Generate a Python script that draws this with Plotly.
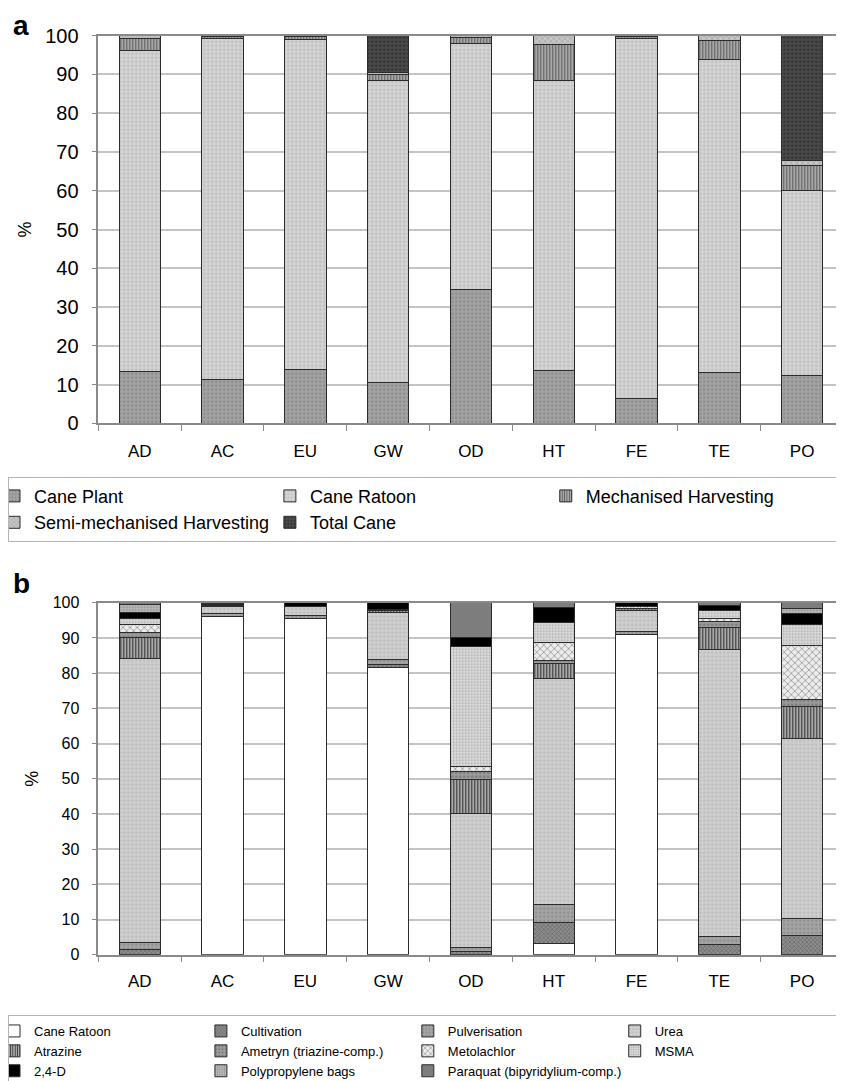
import plotly.graph_objects as go

sites = ["AD", "AC", "EU", "GW", "OD", "HT", "FE", "TE", "PO"]

# Panel a (%)
cane_plant = [13.3, 11.4, 13.8, 10.6, 34.4, 13.6, 6.3, 13.0, 12.3]
cane_ratoon_a = [82.8, 87.8, 85.3, 77.8, 63.6, 74.8, 92.9, 80.9, 47.7]
mech_harvest = [3.2, 0.5, 0.6, 1.5, 1.5, 9.3, 0.5, 4.8, 6.5]
semi_mech_harvest = [0.7, 0.3, 0.3, 0.6, 0.5, 2.3, 0.3, 1.3, 1.3]
total_cane = [0, 0, 0, 9.5, 0, 0, 0, 0, 32.2]

# Panel b (%)
cane_ratoon_b = [0, 96.2, 95.6, 81.6, 0, 3.2, 90.9, 0, 0]
cultivation = [1.5, 0, 0, 0.9, 1.0, 5.9, 0, 3.0, 5.4]
pulverisation = [2.0, 0.6, 0.7, 1.5, 1.0, 5.1, 0.9, 2.1, 4.9]
urea = [80.6, 2.0, 2.7, 13.3, 38.1, 64.4, 6.0, 81.7, 51.1]
atrazine = [6.0, 0.2, 0, 0.5, 9.6, 4.2, 0.5, 6.1, 9.1]
ametryn = [1.5, 0.2, 0, 0.2, 2.3, 0.9, 0, 1.7, 2.1]
metolachlor = [2.3, 0.2, 0, 0.2, 1.6, 4.9, 0.5, 0.9, 15.3]
msma = [1.5, 0.2, 0, 0, 34.1, 5.7, 0, 2.2, 6.0]
d24 = [1.9, 0.2, 1.0, 1.8, 2.5, 4.3, 1.2, 1.6, 3.1]
polyprop = [2.3, 0, 0, 0, 0, 0, 0, 0, 1.3]
paraquat = [0.4, 0.2, 0, 0, 9.8, 1.4, 0, 0.7, 1.7]

y_ticks = [0, 10, 20, 30, 40, 50, 60, 70, 80, 90, 100]

FONT = "Liberation Sans, Arial, sans-serif"
LINE = dict(color="#2b2b2b", width=1)

# the page body adds an 8 px offset, so the figure is 8 px smaller
OFF = 8
W, H = 844 - OFF, 1081 - OFF


def px(x):
    return (x - OFF) / W


def py(y):
    return 1 - (y - OFF) / H


fig = go.Figure()

series_a = [
    ("Cane Plant", cane_plant, "#a2a2a2", ".", "#8a8a8a", 4, 0.25),
    ("Cane Ratoon", cane_ratoon_a, "#d3d3d3", ".", "#bdbdbd", 4, 0.25),
    ("Mechanised Harvesting", mech_harvest, "#a8a8a8", "|", "#5a5a5a", 3, 0.35),
    ("Semi-mechanised Harvesting", semi_mech_harvest, "#c6c6c6", "x", "#8a8a8a", 4, 0.2),
    ("Total Cane", total_cane, "#4a4a4a", ".", "#333333", 4, 0.3),
]
for name, vals, bg, shp, fg, sz, sol in series_a:
    fig.add_trace(go.Bar(
        x=sites, y=vals, name=name, xaxis="x", yaxis="y", legend="legend",
        marker=dict(color=bg, line=LINE,
                    pattern=dict(shape=shp, fgcolor=fg, bgcolor=bg, size=sz,
                                 solidity=sol, fillmode="replace")),
    ))

series_b = [
    ("Cane Ratoon", cane_ratoon_b, "#ffffff", "", "#ffffff", 4, 0.2),
    ("Cultivation", cultivation, "#8e8e8e", "x", "#555555", 3, 0.3),
    ("Pulverisation", pulverisation, "#a4a4a4", ".", "#8c8c8c", 4, 0.25),
    ("Urea", urea, "#cfcfcf", ".", "#bababa", 4, 0.25),
    ("Atrazine", atrazine, "#b4b4b4", "|", "#333333", 3, 0.4),
    ("Ametryn (triazine-comp.)", ametryn, "#9c9c9c", ".", "#7a7a7a", 4, 0.3),
    ("Metolachlor", metolachlor, "#ececec", "x", "#6a6a6a", 5, 0.2),
    ("MSMA", msma, "#dddddd", ".", "#a8a8a8", 3, 0.3),
    ("2,4-D", d24, "#000000", "", "#000000", 4, 0.2),
    ("Polypropylene bags", polyprop, "#bcbcbc", ".", "#8a8a8a", 3, 0.3),
    ("Paraquat (bipyridylium-comp.)", paraquat, "#8c8c8c", "|", "#666666", 2, 0.4),
]
for name, vals, bg, shp, fg, sz, sol in series_b:
    fig.add_trace(go.Bar(
        x=sites, y=vals, name=name, xaxis="x2", yaxis="y2", legend="legend2",
        marker=dict(color=bg, line=LINE,
                    pattern=dict(shape=shp, fgcolor=fg, bgcolor=bg, size=sz,
                                 solidity=sol, fillmode="replace")),
    ))

x_dom = [px(98.3), min(1.0, px(843.5))]

xcommon = dict(
    type="category", showgrid=False, showline=True, linecolor="#8a8a8a", linewidth=1.5,
    mirror=True, ticks="outside", ticklen=6, tickcolor="#8a8a8a", tickson="boundaries",
    tickfont=dict(family=FONT, size=17, color="#000"), zeroline=False,
)
ycommon = dict(
    range=[0, 100], tickvals=y_ticks, showgrid=True, gridcolor="#c4c4c4", gridwidth=1.5,
    showline=True, linecolor="#8a8a8a", linewidth=1.5, mirror=True, ticks="outside",
    ticklen=5, tickcolor="#8a8a8a", zeroline=False,
    title=dict(text="%", font=dict(family=FONT, size=18, color="#000"), standoff=9),
)

fig.update_layout(
    width=W, height=H,
    margin=dict(l=0, r=0, t=0, b=0, autoexpand=False),
    paper_bgcolor="white", plot_bgcolor="white",
    barmode="stack", bargap=0.5,
    font=dict(family=FONT, color="#000"),
    xaxis=dict(xcommon, domain=x_dom, anchor="y", ticklabelstandoff=12),
    yaxis=dict(ycommon, domain=[py(423.3), py(35.7)], anchor="x",
               tickfont=dict(family=FONT, size=20, color="#000"), ticklabelstandoff=9),
    xaxis2=dict(xcommon, domain=x_dom, anchor="y2", ticklabelstandoff=10),
    yaxis2=dict(ycommon, domain=[py(954.7), py(602.7)], anchor="x2",
                tickfont=dict(family=FONT, size=16, color="#000"), ticklabelstandoff=9),
    legend=dict(
        orientation="h", x=px(8), y=py(476.7), xanchor="left", yanchor="top",
        xref="paper", yref="paper",
        entrywidthmode="fraction", entrywidth=0.33, traceorder="normal",
        bordercolor="#b4b4b4", borderwidth=1, bgcolor="white",
        font=dict(family=FONT, size=18, color="#000"), itemwidth=30, indentation=-15,
    ),
    legend2=dict(
        orientation="h", x=px(8), y=py(1015), xanchor="left", yanchor="top",
        xref="paper", yref="paper",
        entrywidthmode="fraction", entrywidth=0.2475, traceorder="normal",
        bordercolor="#b4b4b4", borderwidth=1, bgcolor="white",
        font=dict(family=FONT, size=13, color="#000"), itemwidth=30, indentation=-15,
    ),
    annotations=[
        dict(text="<b>a</b>", x=px(11), y=py(8), xref="paper", yref="paper",
             xanchor="left", yanchor="top", showarrow=False,
             font=dict(family=FONT, size=28, color="#000")),
        dict(text="<b>b</b>", x=px(11), y=py(566), xref="paper", yref="paper",
             xanchor="left", yanchor="top", showarrow=False,
             font=dict(family=FONT, size=28, color="#000")),
    ],
)

fig.write_html("out.html")
